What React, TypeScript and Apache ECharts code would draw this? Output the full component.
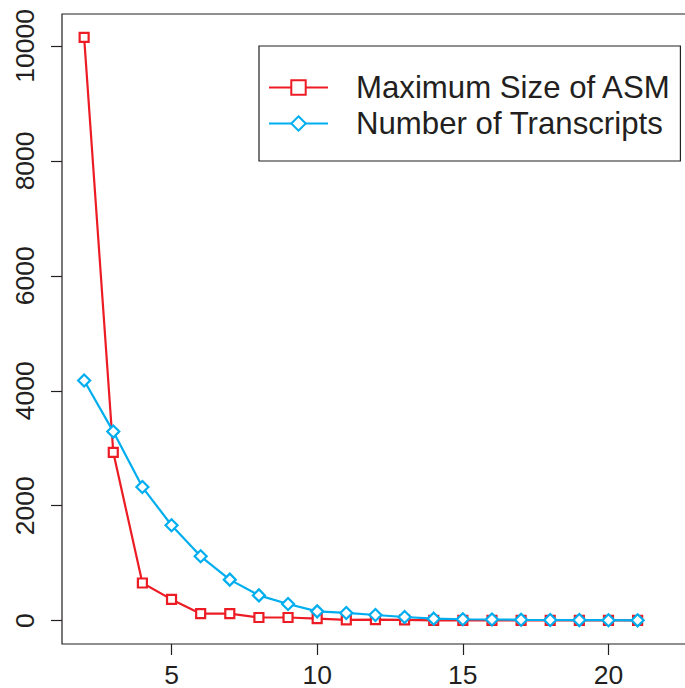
import React, { useEffect, useRef } from "react";
import * as echarts from "echarts";

const xValues = [2, 3, 4, 5, 6, 7, 8, 9, 10, 11, 12, 13, 14, 15, 16, 17, 18, 19, 20, 21];
const maxSizeASM = [10150, 2930, 655, 370, 122, 122, 55, 55, 35, 15, 17, 15, 5, 5, 5, 5, 5, 5, 5, 5];
const numTranscripts = [4180, 3290, 2325, 1660, 1120, 714, 440, 291, 162, 134, 99, 64, 35, 25, 20, 15, 12, 10, 8, 6];
const seriesNames = ["Maximum Size of ASM", "Number of Transcripts"];
const xTicks = [5, 10, 15, 20];
const yTicks = [0, 2000, 4000, 6000, 8000, 10000];

const RED = "#ED1C24";
const BLUE = "#00AEEF";
const INK = "#231F20";
const FONT = "Liberation Sans";

export default function App() {
  const ref = useRef<HTMLDivElement>(null);
  useEffect(() => {
    if (!ref.current) return;
    const chart = echarts.init(ref.current, null, { renderer: "svg" });
    const pairs = (ys: number[]) => xValues.map((x, i) => [x, ys[i]]);
    chart.setOption({
      animation: false,
      backgroundColor: "#fff",
      textStyle: { fontFamily: FONT },
      grid: {
        show: true,
        left: 62,
        top: 14,
        width: 626,
        height: 630,
        borderColor: INK,
        borderWidth: 1.2,
        backgroundColor: "transparent",
        containLabel: false,
      },
      legend: {
        orient: "vertical",
        left: 259,
        top: 46,
        padding: [26, 9, 22, 9],
        itemWidth: 59,
        itemHeight: 18,
        itemGap: 5,
        borderColor: INK,
        borderWidth: 1.2,
        backgroundColor: "#fff",
        data: seriesNames,
        textStyle: {
          fontFamily: FONT,
          fontSize: 31.2,
          lineHeight: 31,
          color: INK,
          padding: [0, 0, 0, 23],
        },
      },
      xAxis: {
        type: "value",
        min: 1.24,
        max: 22.73,
        axisLine: { show: false, onZero: false },
        splitLine: { show: false },
        axisTick: {
          show: true,
          length: 11,
          customValues: xTicks,
          lineStyle: { color: INK, width: 1.2 },
        },
        axisLabel: {
          customValues: xTicks,
          fontFamily: FONT,
          fontSize: 26.5,
          color: INK,
          margin: 17,
          formatter: (v: number) => String(v),
        },
      },
      yAxis: {
        type: "value",
        min: -406,
        max: 10556,
        axisLine: { show: false, onZero: false },
        splitLine: { show: false },
        axisTick: {
          show: true,
          length: 11,
          customValues: yTicks,
          lineStyle: { color: INK, width: 1.2 },
        },
        axisLabel: {
          customValues: yTicks,
          rotate: 90,
          fontFamily: FONT,
          fontSize: 26.5,
          color: INK,
          margin: 24,
          formatter: (v: number) => String(v),
        },
      },
      series: [
        {
          name: seriesNames[0],
          type: "line",
          data: pairs(maxSizeASM),
          symbol: "rect",
          symbolSize: 9,
          showAllSymbol: true,
          lineStyle: { color: RED, width: 2.2 },
          itemStyle: { color: "#fff", borderColor: RED, borderWidth: 2.2 },
          color: RED,
        },
        {
          name: seriesNames[1],
          type: "line",
          data: pairs(numTranscripts),
          symbol: "diamond",
          symbolSize: 12,
          showAllSymbol: true,
          lineStyle: { color: BLUE, width: 2.2 },
          itemStyle: { color: "#fff", borderColor: BLUE, borderWidth: 2.2 },
          color: BLUE,
        },
      ],
    });
    return () => chart.dispose();
  }, []);
  return (
    <div
      ref={ref}
      style={{ position: "fixed", left: 0, top: 0, width: 705, height: 688 }}
    />
  );
}
